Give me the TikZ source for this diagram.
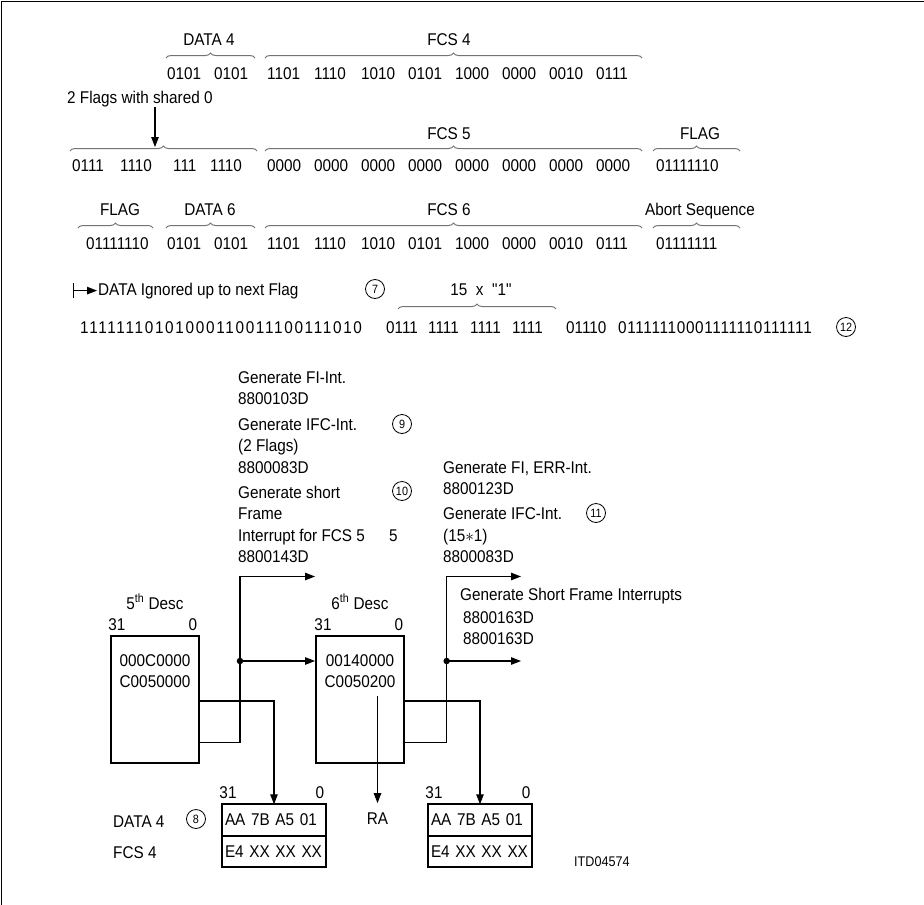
\documentclass[tikz,border=0pt]{standalone}
\usepackage{fontspec}
\setmainfont{Liberation Sans}[FakeStretch=0.9, Ligatures=TeXOff]
\usetikzlibrary{arrows.meta,decorations.pathreplacing,positioning}

\newcommand{\spaced}[2]{{\addfontfeatures{LetterSpace=#1}#2}}

\begin{document}
\begin{tikzpicture}[
    x=1pt,
    y=-1pt,
    every node/.style={inner sep=0pt, font=\fontsize{17}{21.5}\selectfont},
]
\tikzset{
    txt/.style={anchor=base west},
    mid/.style={anchor=base},
    brc/.style={draw=black!55, line width=1pt, decorate, decoration={brace, amplitude=5pt}},
    wire/.style={draw=black, line width=1.1pt},
    arr/.style={wire, -{Triangle[length=10pt,width=7.5pt]}},
    descbox/.style={draw, line width=2.4pt, minimum width=88pt, minimum height=127pt},
    regbox/.style={draw, line width=2.2pt, outer sep=0pt, minimum height=31.5pt, text width=98pt, inner xsep=3pt, align=left},
    num/.style={draw, circle, line width=0.8pt, minimum size=19pt, font=\fontsize{12}{12}\selectfont},
    tap/.style={circle, fill, minimum size=6.5pt},
}

\useasboundingbox (0,0) rectangle (924,905);
\draw[line width=1.2pt] (1.5,905) -- (1.5,1.5) -- (924,1.5);

% DATA 4 / FCS 4
\node[mid] (data4) at (209,45) {DATA 4};
\node[mid] (fcs4) at (449,45) {FCS 4};
\draw[brc] (166,58) -- (255,58);
\draw[brc] (265,58) -- (642,58);
\node[txt] (d4a) at (167,79) {0101};
\node[txt] (d4b) at (214,79) {0101};
\foreach \g [count=\k from 0] in {1101,1110,1010,0101,1000,0000,0010,0111}
    \node[txt] (f4-\k) at (267+47*\k,79) {\g};

% shared flags, FCS 5
\node[txt] (flags) at (67,103) {2 Flags with shared 0};
\coordinate (share) at (155,147);
\draw[arr] (flags.south -| share) -- (share);
\node[mid] (fcs5) at (449,139) {FCS 5};
\node[mid] (flag5) at (700,139) {FLAG};
\draw[brc] (70,151) -- (257,151);
\draw[brc] (265,151) -- (642,151);
\draw[brc] (653,151) -- (740,151);
\foreach \g/\xx [count=\k] in {0111/72,1110/120,111/173,1110/210}
    \node[txt] (s-\k) at (\xx,171) {\g};
\foreach \g [count=\k from 0] in {0000,0000,0000,0000,0000,0000,0000,0000}
    \node[txt] (f5-\k) at (267+47*\k,171) {\g};
\node[txt] (flag5b) at (656,171) {01111110};

% FLAG, DATA 6, FCS 6, abort
\node[mid] (flag6) at (120,215) {FLAG};
\node[mid] (data6) at (210,215) {DATA 6};
\node[mid] (fcs6) at (449,215) {FCS 6};
\node[mid] (abort) at (700,215) {Abort Sequence};
\draw[brc] (78,228) -- (153,228);
\draw[brc] (166,228) -- (255,228);
\draw[brc] (265,228) -- (642,228);
\draw[brc] (653,228) -- (740,228);
\node[txt] (flag6b) at (86,249) {01111110};
\node[txt] (d6a) at (167,249) {0101};
\node[txt] (d6b) at (214,249) {0101};
\foreach \g [count=\k from 0] in {1101,1110,1010,0101,1000,0000,0010,0111}
    \node[txt] (f6-\k) at (267+47*\k,249) {\g};
\node[txt] (abortb) at (656,249) {01111111};

% ignored data
\node[txt] (ign) at (98,295) {DATA Ignored up to next Flag};
\draw[wire, {Bar[width=15pt]}-{Triangle[length=10pt,width=7.5pt]}] ([xshift=-25pt]ign.west) -- ([xshift=-1pt]ign.west);
\node[num] (c7) at (375,289) {7};
\node[mid] (ones) at (481,295) {15\enspace x\enspace "1"};
\draw[brc] (398,309) -- (556,309);
\node[txt] (r4a) at (80,333) {\spaced{10}{11111110101000110011100111010}};
\foreach \g/\xx [count=\k] in {0111/386,1111/428,1111/470,1111/512,01110/566}
    \node[txt] (r4-\k) at (\xx,333) {\g};
\node[txt] (r4b) at (618,333) {\spaced{4}{01111110001111110111111}};
\node[num] (c12) at (846,327) {12};

% interrupts
\foreach \t/\yy [count=\i] in {Generate FI-Int./383, 8800103D/404.5, Generate IFC-Int./430, (2 Flags)/451.5, 8800083D/473, Generate short/498, Frame/519.5, Interrupt for FCS 5/541, 8800143D/562.5}
    \node[txt] (gl\i) at (238,\yy) {\t};
\node[num] (c9) at (402,424) {9};
\node[num] (c10) at (402,491) {10};
\node[txt] (five) at (389,541) {5};
\foreach \t/\yy [count=\i] in {{Generate FI, ERR-Int.}/473, 8800123D/494.5, Generate IFC-Int./519.5, (15$\ast$1)/541, 8800083D/562.5}
    \node[txt] (gr\i) at (443,\yy) {\t};
\node[num] (c11) at (596,513) {11};

% descriptors
\node[descbox] (desc5) at (155,699.5) {};
\node[descbox] (desc6) at (360.25,699.5) {};
\node[mid] (h5) at (155,609) {5\textsuperscript{th} Desc};
\node[mid] (h6) at (360,609) {6\textsuperscript{th} Desc};
\node[mid] (h5l) at (117,630) {31};
\node[mid] (h5r) at (193,630) {0};
\node[mid] (h6l) at (323,630) {31};
\node[mid] (h6r) at (399,630) {0};
\node[mid] (d5a) at (155,666) {000C0000};
\node[mid] (d5b) at (155,687) {C0050000};
\node[mid] (d6a) at (360,666) {00140000};
\node[mid] (d6b) at (360,687) {C0050200};

% buffers
\node[regbox] (reg1a) at (274,820) {AA 7B A5 01};
\node[regbox, below=0pt of reg1a] (reg1b) {E4 XX XX XX};
\node[regbox] (reg2a) at (480,820) {AA 7B A5 01};
\node[regbox, below=0pt of reg2a] (reg2b) {E4 XX XX XX};
\node[mid] (r1l) at (228,798) {31};
\node[mid] (r1r) at (320,798) {0};
\node[mid] (r2l) at (434,798) {31};
\node[mid] (r2r) at (526,798) {0};
\node[txt] (bdata) at (113,827) {DATA 4};
\node[txt] (bfcs) at (113,858) {FCS 4};
\node[num] (c8) at (196,819) {8};
\node[mid] (ra) at (377.5,824) {RA};
\node[txt, font=\fontsize{14}{14}\selectfont] (itd) at (574,866) {ITD04574};

% connections
\coordinate (tap5) at (240,661);
\coordinate (out5) at (315,576.5);
\draw[wire] ([yshift=-43pt]desc5.east) -| (tap5);
\draw[arr] (tap5) |- (out5);
\draw[arr] (tap5) -- (tap5 -| desc6.west);
\node[tap] (dot5) at (tap5) {};
\draw[arr] ([yshift=-1.5pt]desc5.east) -| (reg1a.north);

\coordinate (ra0) at (377.5,696);
\draw[arr, shorten >=9pt] (ra0) -- (ra.north);

\coordinate (tap6) at (446.7,661);
\coordinate (out6) at (521,576.5);
\coordinate (out6b) at (521,661);
\draw[wire] ([yshift=-43pt]desc6.east) -| (tap6);
\draw[arr] (tap6) |- (out6);
\draw[arr] (tap6) -- (out6b);
\node[tap] (dot6) at (tap6) {};
\draw[arr] ([yshift=-1.5pt]desc6.east) -| (reg2a.north);

\node[txt] (sfi) at (460,600.5) {Generate Short Frame Interrupts};
\node[txt] (sfi1) at (463,623) {8800163D};
\node[txt] (sfi2) at (463,644.5) {8800163D};
\end{tikzpicture}
\end{document}
